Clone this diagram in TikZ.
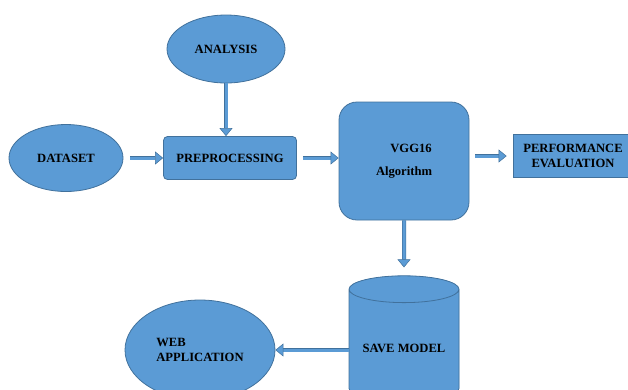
\documentclass[tikz,border=0pt]{standalone}
\usepackage{fontspec}
\setmainfont{Liberation Serif}
\usepackage{xcolor}
\usepackage{tikz}
\usetikzlibrary{shapes.geometric,arrows.meta}
\definecolor{boxfill}{HTML}{5B9BD5}
\definecolor{boxedge}{HTML}{41719C}
\tikzset{
    every node/.style={font=\fontsize{12.6}{15}\selectfont\bfseries},
    blob/.style={draw=boxedge, fill=boxfill, line width=0.8pt},
    flow/.style={draw=boxedge, line width=0.5pt, double=boxfill, double distance=3pt,
        -{Triangle[length=8pt,width=13pt,fill=boxfill]}}
}
\begin{document}
\begin{tikzpicture}[x=1pt,y=-1pt]
    \useasboundingbox (0,0) rectangle (628,389);
    \node[blob, ellipse, minimum width=118, minimum height=68] (analysis) at (226,49) {ANALYSIS};
    \node[blob, ellipse, minimum width=114, minimum height=67] (dataset) at (66,158) {DATASET};
    \node[blob, rectangle, rounded corners=4pt, minimum width=133, minimum height=43] (prep) at (230,158) {PREPROCESSING};
    \node[blob, rectangle, rounded corners=18pt, minimum width=130, minimum height=118, align=center] (vgg) at (404,161) {\hspace*{14pt}VGG16\\[8pt]Algorithm};
    \node[blob, rectangle, minimum width=120, minimum height=43, align=center] (perf) at (573,156) {PERFORMANCE\\EVALUATION};
    \node[blob, cylinder, shape border rotate=90, aspect=0.3, minimum width=110, minimum height=126,
          cylinder uses custom fill, cylinder body fill=boxfill, cylinder end fill=boxfill] (save) at (404,348) {SAVE MODEL};
    \node[blob, ellipse, minimum width=150, minimum height=100, align=left] (web) at (200,350) {WEB\\APPLICATION};

    \draw[flow] (analysis.south) -- (analysis.south |- prep.north);
    \draw[flow, shorten <=7pt] (dataset.east) -- (prep.west);
    \draw[flow, shorten <=6pt] (prep.east) -- (prep.east -| vgg.west);
    \draw[flow, shorten <=6pt, shorten >=6pt] (perf.west -| vgg.east) -- (perf.west);
    \draw[flow, shorten >=8pt] (vgg.south) -- (save.north);
    \draw[flow] (web.east -| save.west) -- (web.east);
\end{tikzpicture}
\end{document}
